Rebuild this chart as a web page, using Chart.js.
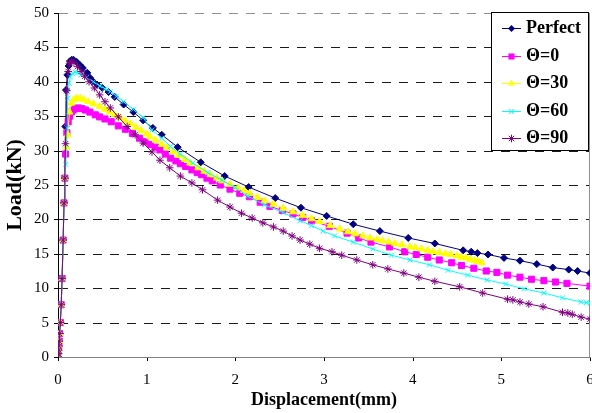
<!DOCTYPE html>
<html>
<head>
<meta charset="utf-8">
<script src="https://cdn.jsdelivr.net/npm/chart.js@4/dist/chart.umd.min.js"></script>
<style>
html,body{margin:0;padding:0;background:#fff;}
#wrap{position:relative;width:592px;height:413px;}
#wrap canvas{position:absolute;left:0;top:0;display:block;}
</style>
</head>
<body>
<div id="wrap">
<canvas id="g" width="592" height="413"></canvas>
<canvas id="c" width="592" height="413"></canvas>
</div>
<script>
// ---- data (displacement in mm, load in kN) ----
const seriesLabels = ["Perfect", "Θ=0", "Θ=30", "Θ=60", "Θ=90"];
const xTicks = [0, 1, 2, 3, 4, 5, 6];
const yTicks = [0, 5, 10, 15, 20, 25, 30, 35, 40, 45, 50];

const perfectX = [0,0.003,0.006,0.009,0.013,0.019,0.026,0.036,0.046,0.058,0.068,0.077,0.083,0.09,0.105,0.12,0.135,0.155,0.175,0.21,0.25,0.28,0.33,0.36,0.39,0.44,0.5,0.57,0.64,0.74,0.85,0.96,1.07,1.17,1.35,1.61,1.88,2.15,2.45,2.74,3.03,3.33,3.63,3.95,4.25,4.57,4.66,4.73,4.85,5.03,5.21,5.4,5.58,5.76,5.86,6.0];
const perfectY = [0,0.5,1.0,1.6,2.3,3.4,5.0,7.6,11.4,17.0,22.4,26.0,33.5,38.8,41.0,42.3,43.0,43.2,43.2,42.9,42.4,42.0,41.3,40.6,40.1,39.6,39.1,38.5,37.8,36.7,35.6,34.4,33.3,32.3,30.5,28.3,26.3,24.7,23.1,21.7,20.5,19.3,18.3,17.3,16.5,15.5,15.3,15.1,14.9,14.4,14.0,13.5,13.0,12.7,12.5,12.2];

const theta0X = [0,0.003,0.006,0.009,0.013,0.019,0.026,0.036,0.046,0.058,0.068,0.077,0.085,0.1,0.115,0.13,0.15,0.17,0.2,0.23,0.27,0.31,0.36,0.42,0.47,0.53,0.6,0.68,0.76,0.84,0.92,0.98,1.04,1.1,1.15,1.21,1.27,1.33,1.38,1.44,1.51,1.57,1.62,1.68,1.74,1.83,1.94,2.05,2.16,2.28,2.39,2.53,2.65,2.76,2.86,3.06,3.26,3.39,3.53,3.74,3.91,4.04,4.17,4.3,4.44,4.55,4.69,4.83,4.95,5.07,5.21,5.34,5.48,5.61,5.74,6.0];
const theta0Y = [0,0.5,1.0,1.6,2.3,3.4,5.0,7.6,11.4,17.0,22.4,26.0,29.5,32.6,34.2,35.0,35.6,35.9,36.1,36.2,36.1,35.9,35.6,35.2,34.9,34.6,34.2,33.6,33.1,32.5,31.8,31.3,30.9,30.5,30.1,29.5,28.9,28.5,28.1,27.7,27.2,26.8,26.5,26.0,25.6,25.0,24.4,23.8,23.3,22.5,21.9,21.3,20.8,20.3,19.8,19.0,18.0,17.3,16.7,16.0,15.3,14.9,14.5,14.1,13.7,13.3,12.9,12.5,12.3,11.9,11.6,11.3,11.1,10.9,10.7,10.3];

const theta30X = [0,0.003,0.006,0.009,0.013,0.019,0.026,0.036,0.046,0.058,0.068,0.077,0.095,0.11,0.13,0.15,0.18,0.21,0.25,0.29,0.34,0.4,0.47,0.53,0.58,0.64,0.7,0.76,0.82,0.88,0.94,1.0,1.04,1.1,1.17,1.23,1.3,1.36,1.43,1.49,1.58,1.65,1.72,1.79,1.85,1.94,2.03,2.1,2.16,2.25,2.33,2.43,2.54,2.65,2.76,2.86,2.95,3.07,3.18,3.27,3.35,3.44,3.52,3.6,3.66,3.73,3.8,3.88,3.97,4.03,4.1,4.17,4.23,4.3,4.37,4.43,4.5,4.55,4.6,4.65,4.7,4.74,4.78];
const theta30Y = [0,0.5,1.0,1.6,2.3,3.4,5.0,7.6,11.4,17.0,22.4,26.0,30.5,32.3,35.6,36.9,37.4,37.6,37.6,37.4,37.1,36.8,36.4,36.0,35.6,35.2,34.8,34.3,33.9,33.4,32.9,32.4,32.0,31.5,30.9,30.4,29.8,29.3,28.7,28.2,27.5,27.0,26.5,26.0,25.6,25.1,24.6,24.2,23.8,23.2,22.7,22.2,21.6,21.1,20.6,20.1,19.7,19.1,18.6,18.2,17.9,17.6,17.3,17.1,16.9,16.7,16.5,16.3,16.0,15.9,15.7,15.5,15.3,15.2,15.0,14.9,14.7,14.5,14.4,14.2,14.0,13.9,13.7];

const theta60X = [0,0.003,0.006,0.009,0.013,0.019,0.026,0.036,0.046,0.058,0.068,0.077,0.088,0.1,0.11,0.125,0.14,0.16,0.19,0.22,0.26,0.32,0.4,0.47,0.53,0.59,0.66,0.74,0.85,0.96,1.06,1.17,1.27,1.38,1.52,1.69,1.85,2.0,2.14,2.33,2.54,2.73,2.86,2.99,3.12,3.33,3.55,3.76,3.97,4.19,4.4,4.62,4.84,5.05,5.26,5.48,5.69,5.9,5.96,6.0];
const theta60Y = [0,0.5,1.0,1.6,2.3,3.4,5.0,7.6,11.4,17.0,22.4,26.0,28.0,33.3,37.6,39.8,40.7,41.2,41.4,41.3,41.0,40.6,40.0,39.4,39.0,38.6,37.9,37.1,36.0,34.8,33.0,31.8,30.6,29.5,28.2,26.8,25.7,24.6,23.4,22.1,21.0,19.8,19.1,18.3,17.6,16.7,15.7,14.8,14.1,13.4,12.6,11.9,11.2,10.6,9.9,9.3,8.6,8.0,7.9,7.8];

const theta90X = [0,0.003,0.006,0.009,0.013,0.019,0.026,0.036,0.046,0.058,0.068,0.077,0.085,0.1,0.115,0.13,0.15,0.18,0.22,0.26,0.3,0.35,0.41,0.47,0.53,0.59,0.68,0.78,0.87,0.96,1.06,1.15,1.26,1.38,1.51,1.63,1.8,1.94,2.07,2.19,2.31,2.43,2.54,2.64,2.73,2.84,2.95,3.09,3.2,3.37,3.55,3.72,3.9,4.07,4.25,4.53,4.79,5.07,5.13,5.21,5.31,5.47,5.69,5.75,5.8,5.9,6.0];
const theta90Y = [0,0.5,1.0,1.6,2.3,3.4,5.0,7.6,11.4,17.0,22.4,26.0,31.0,38.7,41.5,42.7,43.0,42.8,42.2,41.5,40.8,40.0,39.1,38.1,37.1,36.2,34.9,33.5,32.3,31.1,29.8,28.6,27.5,26.3,25.3,24.3,22.8,21.8,20.9,20.2,19.5,18.9,18.3,17.6,17.0,16.4,15.8,15.3,14.8,14.1,13.4,12.8,12.2,11.6,11.0,10.2,9.3,8.4,8.3,8.0,7.7,7.3,6.5,6.4,6.2,5.8,5.5];

// ---- styles ----
const seriesColors = ["#000080", "#FF00FF", "#FFFF00", "#00FFFF", "#800080"];
const seriesStyles = ["rectRot", "rect", "triangle", "crossRot", "star"];
const seriesRadius = [3.5, 4.3, 4, 3.5, 3.8];
const seriesX = [perfectX, theta0X, theta30X, theta60X, theta90X];
const seriesY = [perfectY, theta0Y, theta30Y, theta60Y, theta90Y];

const FONT = "'Liberation Serif', 'Times New Roman', serif";
const PLOT = { left: 58, right: 590, top: 13, bottom: 357 };

const datasets = seriesLabels.map((lab, i) => ({
  label: lab,
  data: seriesX[i].map((x, k) => ({x: x, y: seriesY[i][k]})),
  showLine: true,
  borderColor: seriesColors[i],
  backgroundColor: seriesColors[i],
  pointBackgroundColor: seriesColors[i],
  pointBorderColor: seriesColors[i],
  borderWidth: 1,
  pointBorderWidth: 1,
  pointStyle: seriesStyles[i],
  pointRadius: seriesRadius[i],
  tension: 0,
  order: 5 - i
}));

function drawMarker(ctx, style, r, x, y, color) {
  ctx.save();
  ctx.fillStyle = color; ctx.strokeStyle = color; ctx.lineWidth = 1;
  ctx.beginPath();
  if (style === 'rectRot') {
    ctx.moveTo(x, y - r); ctx.lineTo(x + r, y); ctx.lineTo(x, y + r); ctx.lineTo(x - r, y); ctx.closePath(); ctx.fill();
  } else if (style === 'rect') {
    const s = r * Math.SQRT1_2; ctx.rect(x - s, y - s, 2 * s, 2 * s); ctx.fill();
  } else if (style === 'triangle') {
    ctx.moveTo(x, y - r); ctx.lineTo(x + r * 0.866, y + r * 0.5); ctx.lineTo(x - r * 0.866, y + r * 0.5); ctx.closePath(); ctx.fill();
  } else if (style === 'crossRot') {
    const s = r * Math.SQRT1_2;
    ctx.moveTo(x - s, y - s); ctx.lineTo(x + s, y + s); ctx.moveTo(x - s, y + s); ctx.lineTo(x + s, y - s); ctx.stroke();
  } else if (style === 'star') {
    const s = r * Math.SQRT1_2;
    ctx.moveTo(x - s, y - s); ctx.lineTo(x + s, y + s); ctx.moveTo(x - s, y + s); ctx.lineTo(x + s, y - s);
    ctx.moveTo(x, y - r); ctx.lineTo(x, y + r); ctx.stroke();
  }
  ctx.restore();
}

// pin the plot area to the reference's position
const areaPlugin = {
  id: 'pinArea',
  afterLayout(chart) {
    const ca = chart.chartArea;
    ca.left = PLOT.left; ca.right = PLOT.right; ca.top = PLOT.top; ca.bottom = PLOT.bottom;
    ca.width = ca.right - ca.left; ca.height = ca.bottom - ca.top;
    const sx = chart.scales.x, sy = chart.scales.y;
    sx.left = PLOT.left; sx.right = PLOT.right; sx.width = PLOT.right - PLOT.left;
    sx.top = PLOT.bottom; sx.height = sx.bottom - sx.top;
    sy.top = PLOT.top; sy.bottom = PLOT.bottom; sy.height = PLOT.bottom - PLOT.top;
    sy.right = PLOT.left; sy.left = 0; sy.width = PLOT.left;
    sx.configure(); sy.configure();
  }
};

const legendPlugin = {
  id: 'boxLegend',
  afterDraw(chart) {
    const ctx = chart.ctx;
    const bx = 491.5, by = 12.5, bw = 97, bh = 138;
    ctx.save();
    ctx.fillStyle = '#fff';
    ctx.fillRect(bx, by, bw, bh);
    ctx.strokeStyle = '#000';
    ctx.lineWidth = 1;
    ctx.strokeRect(bx, by, bw, bh);
    ctx.font = "bold 18px " + FONT;
    ctx.textBaseline = 'middle';
    ctx.textAlign = 'left';
    seriesLabels.forEach((lab, i) => {
      const y = Math.round(28 + i * 27.5) + 0.5;
      ctx.strokeStyle = seriesColors[i];
      ctx.lineWidth = 1;
      ctx.beginPath(); ctx.moveTo(502, y); ctx.lineTo(521, y); ctx.stroke();
      drawMarker(ctx, seriesStyles[i], seriesRadius[i], 511.5, y, seriesColors[i]);
      ctx.fillStyle = '#000';
      ctx.fillText(lab, 526, y);
    });
    ctx.restore();
  }
};

const chart = new Chart(document.getElementById('c'), {
  type: 'scatter',
  data: { datasets: datasets },
  plugins: [areaPlugin, legendPlugin],
  options: {
    responsive: false,
    animation: false,
    devicePixelRatio: 1,
    layout: { padding: { left: 0, right: 2, top: 13, bottom: 0 } },
    plugins: { legend: { display: false }, tooltip: { enabled: false } },
    scales: {
      x: {
        type: 'linear',
        min: 0, max: 6,
        afterBuildTicks: s => { s.ticks = xTicks.map(v => ({value: v})); },
        afterFit: s => { s.height = 56; },
        ticks: { color: '#000', font: { family: FONT, size: 15 }, padding: 10, maxRotation: 0 },
        grid: { drawOnChartArea: false, color: 'rgba(0,0,0,0)', tickColor: 'rgba(0,0,0,0)', tickLength: 4 },
        border: { color: '#808080' },
        title: { display: true, text: 'Displacement(mm)', color: '#000',
                 font: { family: FONT, size: 18, weight: 'bold' }, padding: { top: 0, bottom: 2 } }
      },
      y: {
        type: 'linear',
        min: 0, max: 50,
        afterBuildTicks: s => { s.ticks = yTicks.map(v => ({value: v})); },
        afterFit: s => { s.width = 58; },
        ticks: { color: '#000', font: { family: FONT, size: 15 }, padding: 5 },
        grid: { drawOnChartArea: false, color: 'rgba(0,0,0,0)', tickColor: 'rgba(0,0,0,0)', tickLength: 4 },
        border: { color: '#000' },
        title: { display: true, text: 'Load(kN)', color: '#000',
                 font: { family: FONT, size: 22, weight: 'bold' }, padding: { top: 2, bottom: 0 } }
      }
    }
  }
});

// dashed horizontal grid, tick marks and right frame line on a separate layer,
// positioned through the chart's own scales
function drawGridLayer() {
  const gc = document.getElementById('g');
  const mainCanvas = document.getElementById('c');
  const ctx = gc.getContext('2d');
  const sx = chart.scales.x, sy = chart.scales.y;
  const left = sx.getPixelForValue(xTicks[0]);
  const right = sx.getPixelForValue(xTicks[xTicks.length - 1]);
  const top = sy.getPixelForValue(yTicks[yTicks.length - 1]);
  const bottom = sy.getPixelForValue(yTicks[0]);
  // put the layer under the chart if the chart canvas is see-through there, else over it
  let below = true;
  try {
    const p = chart.ctx.getImageData(Math.round(sx.getPixelForValue(3)) + 4, Math.round(sy.getPixelForValue(45)) + 3, 1, 1).data;
    below = p[3] < 10;
  } catch (e) { below = true; }
  gc.style.zIndex = below ? '0' : '2';
  mainCanvas.style.zIndex = '1';
  gc.style.pointerEvents = 'none';
  ctx.clearRect(0, 0, gc.width, gc.height);
  ctx.lineWidth = 1;
  yTicks.forEach(v => {
    const y = Math.round(sy.getPixelForValue(v)) + 0.5;
    ctx.setLineDash([9, 8]);
    ctx.strokeStyle = v === 50 ? '#909090' : '#1a1a1a';
    ctx.beginPath(); ctx.moveTo(left + 1, y); ctx.lineTo(right, y); ctx.stroke();
    ctx.setLineDash([]);
    ctx.strokeStyle = '#000';
    ctx.beginPath(); ctx.moveTo(left - 4, y); ctx.lineTo(left, y); ctx.stroke();
  });
  ctx.setLineDash([]);
  ctx.strokeStyle = '#000';
  xTicks.forEach(v => {
    const x = Math.round(sx.getPixelForValue(v)) + 0.5;
    ctx.beginPath(); ctx.moveTo(x, bottom); ctx.lineTo(x, bottom + 4); ctx.stroke();
  });
  ctx.strokeStyle = '#909090';
  ctx.beginPath(); ctx.moveTo(Math.round(right) - 0.5, top); ctx.lineTo(Math.round(right) - 0.5, bottom); ctx.stroke();
  if (!below) {
    // keep the legend box clean when the layer sits on top
    ctx.clearRect(491, 12, 99, 140);
  }
}
drawGridLayer();
</script>
</body>
</html>
